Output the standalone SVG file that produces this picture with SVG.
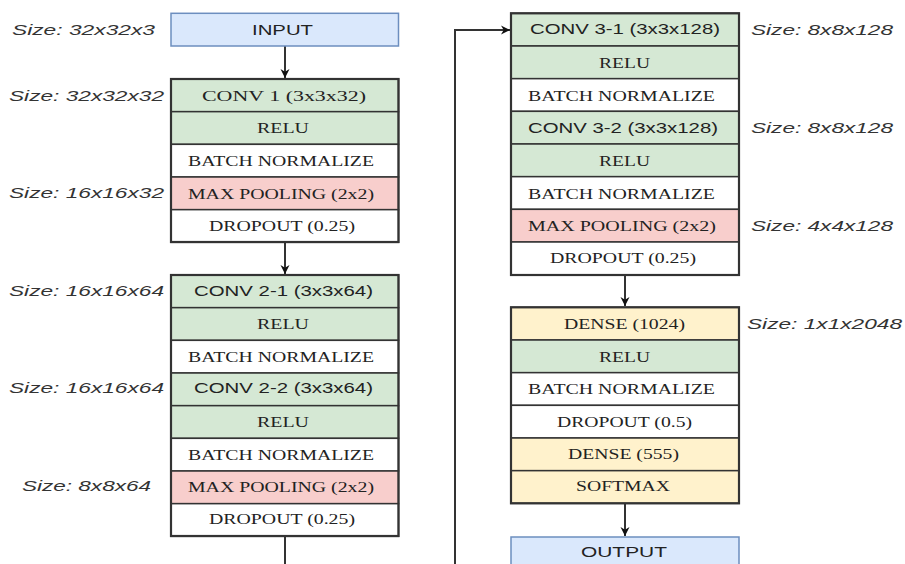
<svg xmlns="http://www.w3.org/2000/svg" width="905" height="564" viewBox="0 0 905 564">
<style>
.bg{fill:#ffffff}
.c{stroke:#333333;stroke-width:1.5}
.g{fill:#d5e8d4}
.w{fill:#ffffff}
.r{fill:#f8cecc}
.y{fill:#fff2cc}
.b{fill:#dae8fc;stroke:#6c8ebf;stroke-width:1.5}
.frame{fill:none;stroke:#333333;stroke-width:2.2}
text{fill:#222222}
.t{font-family:"Liberation Serif","Times New Roman",serif;font-size:15.5px}
.s{font-family:"Liberation Sans",Arial,sans-serif;font-size:14px}
.l{font-family:"Liberation Sans",Arial,sans-serif;font-size:14px;font-style:italic;fill:#333333}
.con{fill:none;stroke:#333333;stroke-width:2}
</style>
<defs>
<marker id="ah" viewBox="0 0 10 10" refX="10" refY="5" markerWidth="9" markerHeight="10" markerUnits="userSpaceOnUse" orient="auto">
<path d="M0,0 L10,5 L0,10 L3,5 Z" fill="#111111"/>
</marker>
</defs>
<rect class="bg" x="0" y="0" width="905" height="564"/>

<g id="connectors">
<path class="con" d="M285,46 V78" marker-end="url(#ah)"/>
<path class="con" d="M285,242 V274" marker-end="url(#ah)"/>
<path class="con" d="M285,536 V600 H455 V30 H510" marker-end="url(#ah)"/>
<path class="con" d="M625,275 V306" marker-end="url(#ah)"/>
<path class="con" d="M625,503.3 V536" marker-end="url(#ah)"/>
</g>

<g id="input">
<rect class="b" x="171" y="13.3" width="227.5" height="32.7"/>
<text class="s" x="252" y="35" textLength="61" lengthAdjust="spacingAndGlyphs">INPUT</text>
</g>
<text class="l" x="12" y="35" textLength="143" lengthAdjust="spacingAndGlyphs">Size: 32x32x3</text>

<g id="block1">
<g id="conv1"><rect class="c g" x="171" y="79" width="227.5" height="32.67"/><text class="t" x="202" y="101" textLength="164" lengthAdjust="spacingAndGlyphs">CONV 1 (3x3x32)</text></g>
<g id="relu1"><rect class="c g" x="171" y="111.67" width="227.5" height="32.67"/><text class="t" x="257" y="132.5" textLength="52" lengthAdjust="spacingAndGlyphs">RELU</text></g>
<g id="bn1"><rect class="c w" x="171" y="144.33" width="227.5" height="32.67"/><text class="t" x="188" y="165.5" textLength="186" lengthAdjust="spacingAndGlyphs">BATCH NORMALIZE</text></g>
<g id="pool1"><rect class="c r" x="171" y="177" width="227.5" height="32.67"/><text class="t" x="188" y="198.5" textLength="186" lengthAdjust="spacingAndGlyphs">MAX POOLING (2x2)</text></g>
<g id="drop1"><rect class="c w" x="171" y="209.67" width="227.5" height="32.67"/><text class="t" x="209" y="231" textLength="146" lengthAdjust="spacingAndGlyphs">DROPOUT (0.25)</text></g>
<rect class="frame" x="171" y="79" width="227.5" height="163"/>
</g>
<text class="l" x="9" y="101" textLength="155" lengthAdjust="spacingAndGlyphs">Size: 32x32x32</text>
<text class="l" x="9" y="198" textLength="155" lengthAdjust="spacingAndGlyphs">Size: 16x16x32</text>

<g id="block2">
<g id="conv21"><rect class="c g" x="171" y="275" width="227.5" height="32.67"/><text class="s" x="194" y="296" textLength="179" lengthAdjust="spacingAndGlyphs">CONV 2-1 (3x3x64)</text></g>
<g id="relu21"><rect class="c g" x="171" y="307.67" width="227.5" height="32.67"/><text class="t" x="257" y="328.5" textLength="52" lengthAdjust="spacingAndGlyphs">RELU</text></g>
<g id="bn21"><rect class="c w" x="171" y="340.33" width="227.5" height="32.67"/><text class="t" x="188" y="361.5" textLength="186" lengthAdjust="spacingAndGlyphs">BATCH NORMALIZE</text></g>
<g id="conv22"><rect class="c g" x="171" y="373" width="227.5" height="32.67"/><text class="s" x="194" y="393" textLength="179" lengthAdjust="spacingAndGlyphs">CONV 2-2 (3x3x64)</text></g>
<g id="relu22"><rect class="c g" x="171" y="405.67" width="227.5" height="32.67"/><text class="t" x="257" y="426.5" textLength="52" lengthAdjust="spacingAndGlyphs">RELU</text></g>
<g id="bn22"><rect class="c w" x="171" y="438.33" width="227.5" height="32.67"/><text class="t" x="188" y="459.5" textLength="186" lengthAdjust="spacingAndGlyphs">BATCH NORMALIZE</text></g>
<g id="pool2"><rect class="c r" x="171" y="471" width="227.5" height="32.67"/><text class="t" x="188" y="491.5" textLength="186" lengthAdjust="spacingAndGlyphs">MAX POOLING (2x2)</text></g>
<g id="drop2"><rect class="c w" x="171" y="503.67" width="227.5" height="32.67"/><text class="t" x="209" y="523.5" textLength="146" lengthAdjust="spacingAndGlyphs">DROPOUT (0.25)</text></g>
<rect class="frame" x="171" y="275" width="227.5" height="261"/>
</g>
<text class="l" x="9" y="296" textLength="155" lengthAdjust="spacingAndGlyphs">Size: 16x16x64</text>
<text class="l" x="9" y="393" textLength="155" lengthAdjust="spacingAndGlyphs">Size: 16x16x64</text>
<text class="l" x="22" y="491" textLength="129" lengthAdjust="spacingAndGlyphs">Size: 8x8x64</text>

<g id="block3">
<g id="conv31"><rect class="c g" x="511" y="13.3" width="228" height="32.67"/><text class="s" x="530" y="34" textLength="190" lengthAdjust="spacingAndGlyphs">CONV 3-1 (3x3x128)</text></g>
<g id="relu31"><rect class="c g" x="511" y="46" width="228" height="32.67"/><text class="t" x="599" y="67.5" textLength="51" lengthAdjust="spacingAndGlyphs">RELU</text></g>
<g id="bn31"><rect class="c w" x="511" y="78.67" width="228" height="32.67"/><text class="t" x="528" y="100.5" textLength="187" lengthAdjust="spacingAndGlyphs">BATCH NORMALIZE</text></g>
<g id="conv32"><rect class="c g" x="511" y="111.33" width="228" height="32.67"/><text class="s" x="528" y="133" textLength="190" lengthAdjust="spacingAndGlyphs">CONV 3-2 (3x3x128)</text></g>
<g id="relu32"><rect class="c g" x="511" y="144" width="228" height="32.67"/><text class="t" x="599" y="165.5" textLength="51" lengthAdjust="spacingAndGlyphs">RELU</text></g>
<g id="bn32"><rect class="c w" x="511" y="176.67" width="228" height="32.67"/><text class="t" x="528" y="198.5" textLength="187" lengthAdjust="spacingAndGlyphs">BATCH NORMALIZE</text></g>
<g id="pool3"><rect class="c r" x="511" y="209.33" width="228" height="32.67"/><text class="t" x="528" y="230.5" textLength="188" lengthAdjust="spacingAndGlyphs">MAX POOLING (2x2)</text></g>
<g id="drop3"><rect class="c w" x="511" y="242" width="228" height="33"/><text class="t" x="550" y="263" textLength="146" lengthAdjust="spacingAndGlyphs">DROPOUT (0.25)</text></g>
<rect class="frame" x="511" y="13.3" width="228" height="261.7"/>
</g>
<text class="l" x="751" y="35" textLength="142" lengthAdjust="spacingAndGlyphs">Size: 8x8x128</text>
<text class="l" x="751" y="133" textLength="142" lengthAdjust="spacingAndGlyphs">Size: 8x8x128</text>
<text class="l" x="751" y="231" textLength="142" lengthAdjust="spacingAndGlyphs">Size: 4x4x128</text>

<g id="block4">
<g id="dense1"><rect class="c y" x="511" y="307.3" width="228" height="32.7"/><text class="t" x="564" y="328.5" textLength="121" lengthAdjust="spacingAndGlyphs">DENSE (1024)</text></g>
<g id="relu4"><rect class="c g" x="511" y="340" width="228" height="32.67"/><text class="t" x="599" y="361.5" textLength="51" lengthAdjust="spacingAndGlyphs">RELU</text></g>
<g id="bn4"><rect class="c w" x="511" y="372.67" width="228" height="32.67"/><text class="t" x="528" y="393.5" textLength="187" lengthAdjust="spacingAndGlyphs">BATCH NORMALIZE</text></g>
<g id="drop4"><rect class="c w" x="511" y="405.33" width="228" height="32.67"/><text class="t" x="557" y="426.5" textLength="135" lengthAdjust="spacingAndGlyphs">DROPOUT (0.5)</text></g>
<g id="dense2"><rect class="c y" x="511" y="438" width="228" height="32.67"/><text class="t" x="568" y="458.5" textLength="111" lengthAdjust="spacingAndGlyphs">DENSE (555)</text></g>
<g id="softmax"><rect class="c y" x="511" y="470.67" width="228" height="32.67"/><text class="t" x="576" y="490.5" textLength="94" lengthAdjust="spacingAndGlyphs">SOFTMAX</text></g>
<rect class="frame" x="511" y="307.3" width="228" height="196"/>
</g>
<text class="l" x="747" y="329" textLength="155" lengthAdjust="spacingAndGlyphs">Size: 1x1x2048</text>

<g id="output">
<rect class="b" x="511" y="537" width="228" height="40"/>
<text class="s" x="581" y="557" textLength="86" lengthAdjust="spacingAndGlyphs">OUTPUT</text>
</g>
</svg>
